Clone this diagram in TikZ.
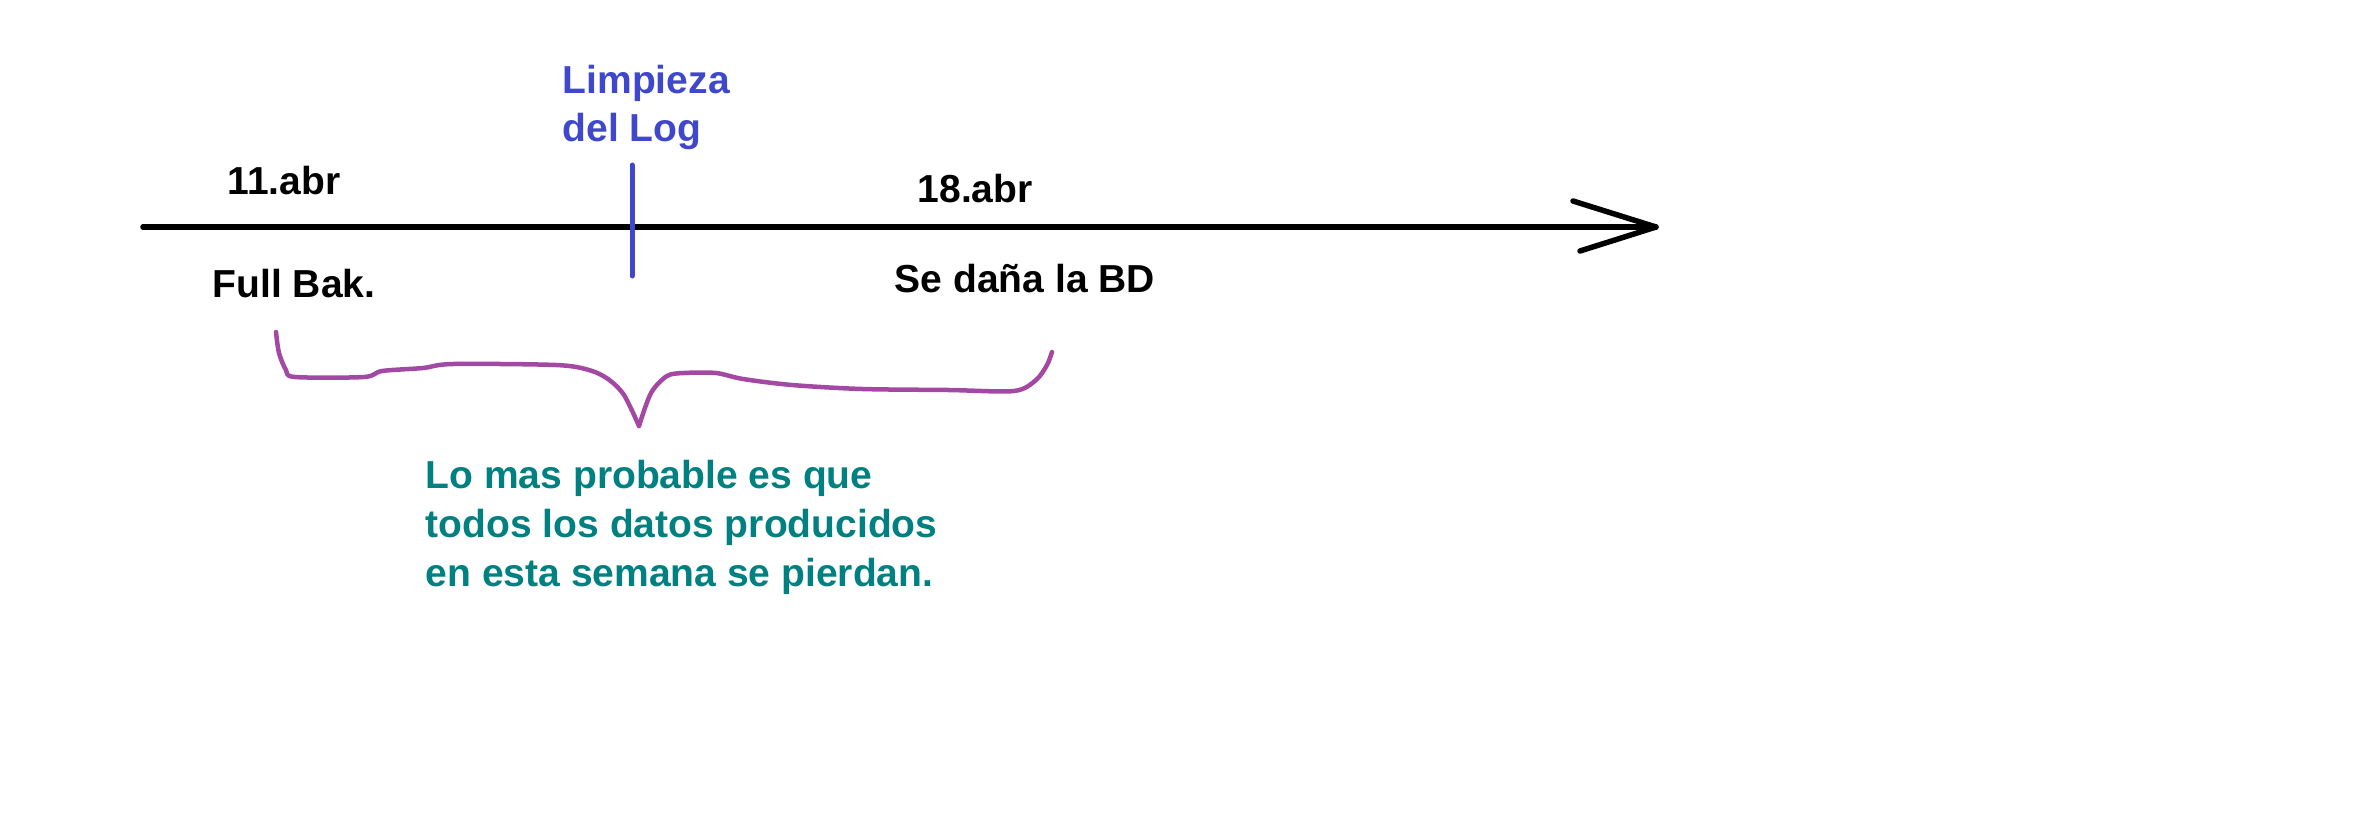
\documentclass[tikz,border=0pt]{standalone}
\usepackage{fontspec}
\setmainfont{Liberation Sans}
\definecolor{logblue}{HTML}{3F48CC}
\definecolor{bracepurple}{HTML}{A349A4}
\definecolor{noteteal}{HTML}{008080}
\tikzset{
  datetext/.style={inner sep=0pt, anchor=base west, font=\fontsize{11.1}{13.6}\selectfont\bfseries},
}
\begin{document}
\begin{tikzpicture}[x=0.01cm, y=-0.01cm, line cap=round, line join=round]
        \useasboundingbox (0,0) rectangle (2353,839);
        % time axis
        \coordinate (tstart) at (143,227);
        \coordinate (tend) at (1656,227);
        \coordinate (headup) at (1573,201);
        \coordinate (headdn) at (1580,251);
        \draw[line width=0.055cm] (tstart) -- (tend);
        \draw[line width=0.055cm] (headup) -- (tend) -- (headdn);
        % log mark
        \coordinate (logtop) at (632,165);
        \coordinate (logbot) at (632,276);
        \draw[logblue, line width=0.05cm] (logtop) -- (logbot);
        \node[datetext, logblue, align=left] (limp) at (562,141) {Limpieza\\del Log};
        \node[datetext] (d11) at (227,194) {11.abr};
        \node[datetext] (full) at (212,297) {Full Bak.};
        \node[datetext] (d18) at (917,202) {18.abr};
        \node[datetext] (dano) at (894,292) {Se daña la BD};
        % brace
        \draw[bracepurple, line width=0.045cm] plot[smooth, tension=0.5] coordinates {(276,332) (279,353) (286,370) (295,377) (364,377) (382,371) (423,368) (453,364) (556,365) (589,370) (608,379) (624,395) (639,426)};
        \draw[bracepurple, line width=0.045cm] plot[smooth, tension=0.5] coordinates {(639,426) (651,393) (667,376) (684,373) (716,373) (743,379) (792,385) (862,389) (949,390) (1014,391) (1036,380) (1047,365) (1052,352)};
        \node[datetext, noteteal, align=left, font=\fontsize{11.1}{13.9}\selectfont\bfseries] (nota) at (425,586) {Lo mas probable es que\\todos los datos producidos\\en esta semana se pierdan.};
\end{tikzpicture}
\end{document}
